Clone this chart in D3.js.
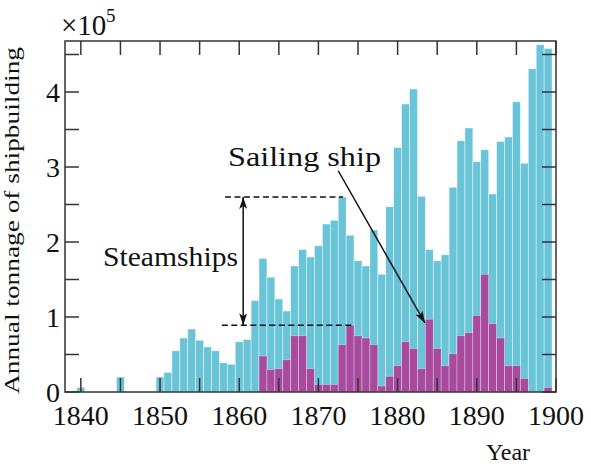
<!DOCTYPE html>
<html>
<head>
    <title>Shipbuilding</title>
    <script src="https://d3js.org/d3.v7.min.js"></script>
    <style>
        body { margin: 0; background: #fff; }
        svg text { font-family: "Liberation Serif", "Times New Roman", serif; fill: #111; }
    </style>
</head>
<body>
    <svg id="chart"></svg>
    <script>
        const width = 591;
        const height = 466;

        // years 1840 .. 1899
        const years = d3.range(1840, 1900);
        // total tonnage (x10^5), cyan bars
        const totalTonnage = [
            0.06, 0, 0, 0, 0, 0.20, 0, 0, 0, 0,
            0.20, 0.26, 0.55, 0.72, 0.84, 0.69, 0.60, 0.55, 0.39, 0.37,
            0.67, 0.70, 1.22, 1.78, 1.53, 1.24, 1.08, 1.68, 1.90, 1.80,
            1.95, 2.24, 2.29, 2.60, 2.09, 1.75, 1.68, 2.16, 1.57, 2.47,
            3.26, 3.84, 4.04, 2.61, 1.90, 1.75, 1.83, 2.73, 3.35, 3.52,
            3.07, 3.23, 2.64, 3.34, 3.40, 3.87, 3.05, 4.31, 4.63, 4.58
        ];
        // steamship tonnage (x10^5), magenta bars
        const steamTonnage = [
            0, 0, 0, 0, 0, 0, 0, 0, 0, 0,
            0, 0, 0, 0, 0, 0, 0, 0, 0, 0,
            0, 0, 0, 0.48, 0.30, 0.31, 0.43, 0.75, 0.75, 0.31,
            0.10, 0.10, 0.10, 0.63, 0.89, 0.75, 0.72, 0.63, 0.08, 0.21,
            0.35, 0.67, 0.58, 0.31, 0.97, 0.58, 0.35, 0.51, 0.75, 0.79,
            1.02, 1.57, 0.91, 0.72, 0.35, 0.35, 0.18, 0, 0, 0.06
        ];
        const xTicks = [1840, 1850, 1860, 1870, 1880, 1890, 1900];
        const xMinorTicks = d3.range(1840, 1901, 5);
        const yTicks = [0, 1, 2, 3, 4];
        const yMinorTicks = d3.range(0, 4.6, 0.5);

        const margin = { top: 41, right: 35, bottom: 74, left: 65 };

        const svg = d3.select("#chart")
            .attr("width", width)
            .attr("height", height);

        const x = d3.scaleLinear()
            .domain([1838, 1900])
            .range([margin.left, width - margin.right]);
        const y = d3.scaleLinear()
            .domain([0, 4.68])
            .range([height - margin.bottom, margin.top]);

        const rows = years.map((yr, i) => ({ year: yr, total: totalTonnage[i], steam: steamTonnage[i] }));

        // bars
        svg.append("g").selectAll("rect")
            .data(rows.filter(d => d.total > 0))
            .enter().append("rect")
            .attr("x", d => x(d.year - 0.5))
            .attr("width", d => x(d.year + 0.5) - x(d.year - 0.5))
            .attr("y", d => y(d.total))
            .attr("height", d => y(0) - y(d.total))
            .style("fill", "#6ac4d8")
            .style("stroke", "rgba(255,255,255,0.6)")
            .style("stroke-width", 0.7);

        svg.append("g").selectAll("rect")
            .data(rows.filter(d => d.steam > 0))
            .enter().append("rect")
            .attr("x", d => x(d.year - 0.5))
            .attr("width", d => x(d.year + 0.5) - x(d.year - 0.5))
            .attr("y", d => y(d.steam))
            .attr("height", d => y(0) - y(d.steam))
            .style("fill", "#a84b9e")
            .style("stroke", "rgba(255,255,255,0.45)")
            .style("stroke-width", 0.7);

        // frame + inward ticks
        const axisColor = "#333";
        const tickLen = 14;
        const frame = svg.append("g").style("stroke", axisColor).style("stroke-width", 1.5);

        frame.selectAll(".xt-bottom")
            .data(xMinorTicks)
            .enter().append("line")
            .attr("x1", d => x(d)).attr("x2", d => x(d))
            .attr("y1", y(0)).attr("y2", y(0) - tickLen);
        frame.selectAll(".xt-top")
            .data(xMinorTicks)
            .enter().append("line")
            .attr("x1", d => x(d)).attr("x2", d => x(d))
            .attr("y1", margin.top).attr("y2", margin.top + tickLen);
        frame.selectAll(".yt-left")
            .data(yMinorTicks)
            .enter().append("line")
            .attr("x1", margin.left).attr("x2", margin.left + tickLen)
            .attr("y1", d => y(d)).attr("y2", d => y(d));
        frame.selectAll(".yt-right")
            .data(yMinorTicks)
            .enter().append("line")
            .attr("x1", width - margin.right).attr("x2", width - margin.right - tickLen)
            .attr("y1", d => y(d)).attr("y2", d => y(d));

        frame.append("rect")
            .attr("x", margin.left)
            .attr("y", margin.top)
            .attr("width", width - margin.left - margin.right)
            .attr("height", height - margin.top - margin.bottom)
            .style("fill", "none");

        // tick labels
        svg.append("g").selectAll("text")
            .data(xTicks)
            .enter().append("text")
            .attr("x", d => x(d))
            .attr("y", y(0) + 33)
            .attr("text-anchor", "middle")
            .style("font-size", "28px")
            .text(d => d);

        svg.append("g").selectAll("text")
            .data(yTicks)
            .enter().append("text")
            .attr("x", margin.left - 5)
            .attr("y", d => y(d) + 10)
            .attr("text-anchor", "end")
            .style("font-size", "28px")
            .text(d => d);

        // exponent
        const expo = svg.append("text")
            .attr("x", 61)
            .attr("y", 35)
            .style("font-size", "29px");
        expo.append("tspan").text("\u00d710");
        expo.append("tspan")
            .attr("x", 106)
            .attr("y", 22)
            .style("font-size", "19px")
            .text("5");

        // axis titles
        svg.append("text")
            .attr("transform", "translate(19," + (y(0) + 2) + ") rotate(-90)")
            .attr("text-anchor", "start")
            .attr("textLength", 347)
            .attr("lengthAdjust", "spacingAndGlyphs")
            .style("font-size", "22px")
            .text("Annual tonnage of shipbuilding");

        svg.append("text")
            .attr("x", 508)
            .attr("y", 460)
            .attr("text-anchor", "middle")
            .style("font-size", "24px")
            .text("Year");

        // annotations
        const defs = svg.append("defs");
        defs.append("marker")
            .attr("id", "head")
            .attr("markerUnits", "userSpaceOnUse")
            .attr("viewBox", "0 0 12 8")
            .attr("refX", 12).attr("refY", 4)
            .attr("markerWidth", 12).attr("markerHeight", 8)
            .attr("orient", "auto-start-reverse")
            .append("path")
            .attr("d", "M0,0 L12,4 L0,8 L3,4 Z")
            .style("fill", "#111");

        const ann = svg.append("g").style("stroke", "#111").style("stroke-width", 1.5).style("fill", "none");

        ann.append("line")
            .attr("x1", x(1858.2)).attr("x2", x(1873.1))
            .attr("y1", y(2.6)).attr("y2", y(2.6))
            .style("stroke-dasharray", "6,3.5");
        ann.append("line")
            .attr("x1", x(1857.8)).attr("x2", x(1874.2))
            .attr("y1", y(0.89)).attr("y2", y(0.89))
            .style("stroke-dasharray", "6,3.5");
        ann.append("line")
            .attr("x1", x(1860.5)).attr("x2", x(1860.5))
            .attr("y1", y(2.6)).attr("y2", y(0.89))
            .attr("marker-start", "url(#head)")
            .attr("marker-end", "url(#head)");
        ann.append("line")
            .attr("x1", x(1872.5)).attr("y1", y(2.95))
            .attr("x2", x(1883.45)).attr("y2", y(0.92))
            .attr("marker-end", "url(#head)");

        svg.append("text")
            .attr("x", 103)
            .attr("y", 266)
            .attr("textLength", 135)
            .attr("lengthAdjust", "spacingAndGlyphs")
            .style("font-size", "27px")
            .text("Steamships");

        svg.append("text")
            .attr("x", 228)
            .attr("y", 166)
            .attr("textLength", 153)
            .attr("lengthAdjust", "spacingAndGlyphs")
            .style("font-size", "28px")
            .text("Sailing ship");
    </script>
</body>
</html>
